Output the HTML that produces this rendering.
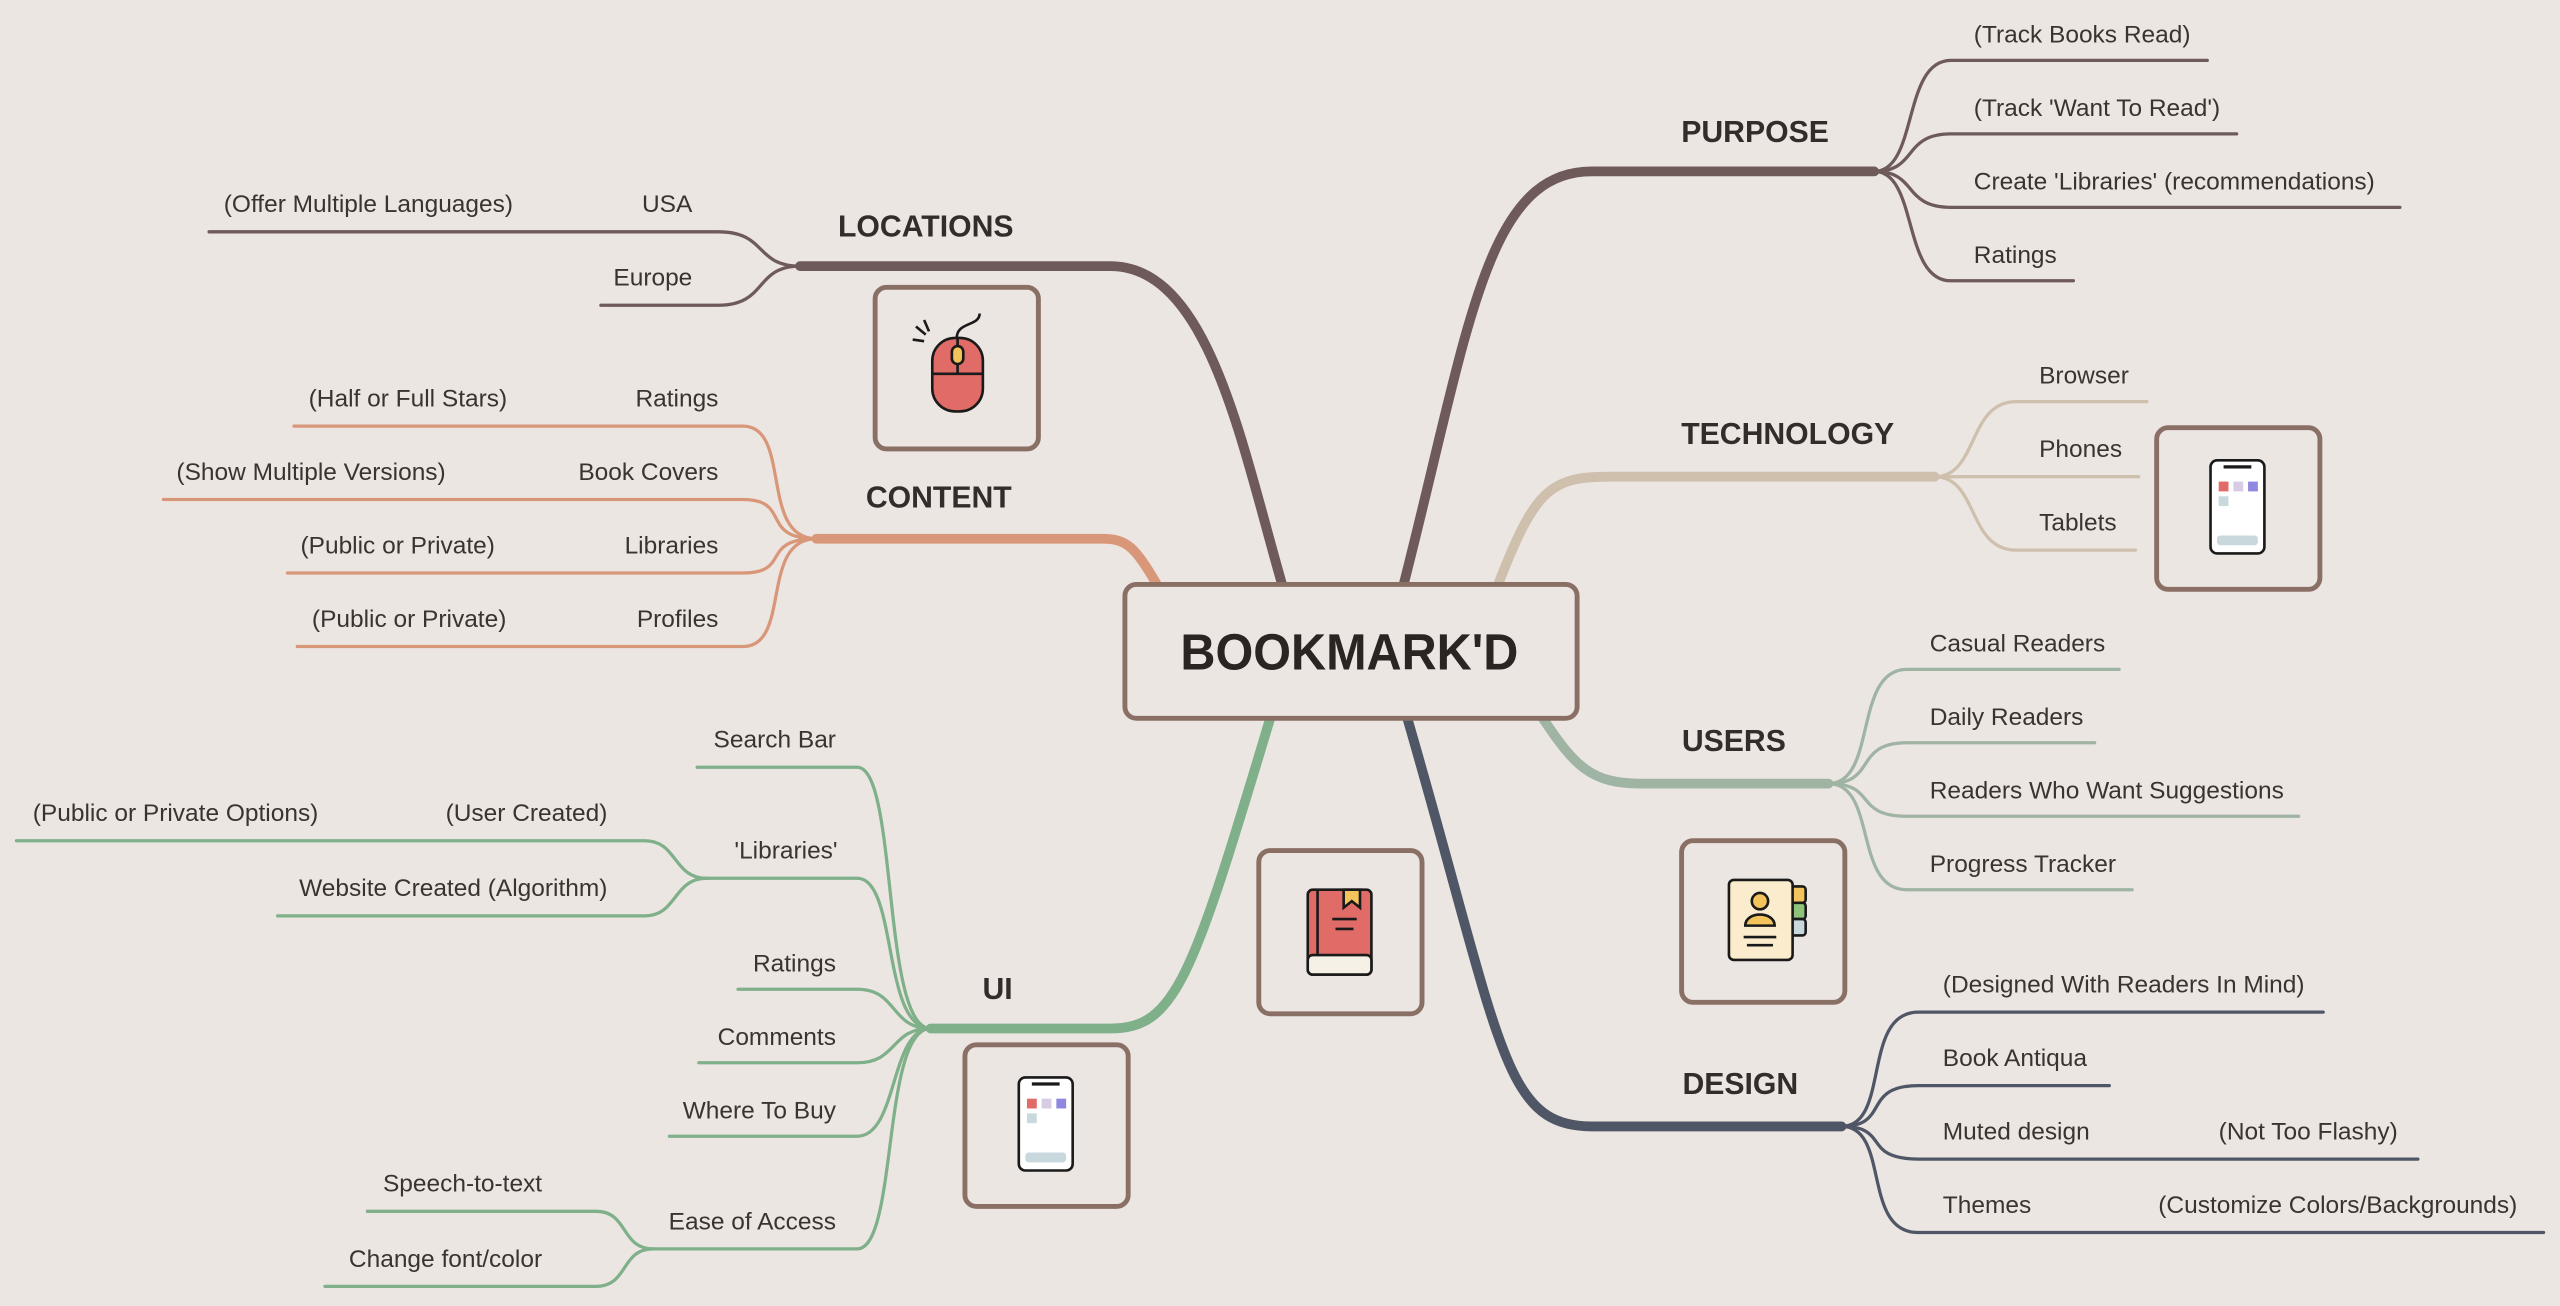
<!DOCTYPE html>
<html><head><meta charset="utf-8"><style>
html,body{margin:0;padding:0;background:#ece6e3;}
svg{display:block}
text{font-family:"Liberation Sans",sans-serif;fill:#3a3330;}
.l{font-size:15px}
.h{font-size:18.5px;font-weight:bold;fill:#332c2a}
.r{text-anchor:end}
</style></head><body>
<svg width="2560" height="1306" viewBox="0 0 1568 800" xmlns="http://www.w3.org/2000/svg">
<rect width="1568" height="800" fill="#ece6e3"/>
<g fill="none" stroke-linecap="round">
<path d="M785 357 C760 270,740 163,680 163 H490" stroke="#6e5a58" stroke-width="6"/>
<path d="M860 357 C900 200,910 105,975 105 H1148" stroke="#6e5a58" stroke-width="6"/>
<path d="M918 357 C940 300,950 292,985 292 H1185" stroke="#cfc0ad" stroke-width="6"/>
<path d="M945 440 C965 470,975 480,1005 480 H1120" stroke="#9fb4a3" stroke-width="6"/>
<path d="M862 440 C920 640,920 690,975 690 H1128" stroke="#4f5666" stroke-width="6"/>
<path d="M778 440 C730 600,720 630,680 630 H570" stroke="#7fb08a" stroke-width="6"/>
<path d="M708 357 C695 335,690 330,675 330 H500" stroke="#d9977a" stroke-width="6"/>
<g stroke="#6e5a58" stroke-width="2">
<path d="M1148 105 C1175 105,1165 37,1195 37 H1352"/>
<path d="M1148 105 C1175 105,1165 82,1195 82 H1370"/>
<path d="M1148 105 C1175 105,1165 127,1195 127 H1470"/>
<path d="M1148 105 C1175 105,1165 172,1195 172 H1270"/>
</g>
<g stroke="#cfc0ad" stroke-width="2">
<path d="M1185 292 C1212 292,1205 246,1235 246 H1315"/>
<path d="M1185 292 H1310"/>
<path d="M1185 292 C1212 292,1205 337,1235 337 H1308"/>
</g>
<g stroke="#9fb4a3" stroke-width="2">
<path d="M1120 480 C1150 480,1135 410,1168 410 H1298"/>
<path d="M1120 480 C1150 480,1135 455,1168 455 H1283"/>
<path d="M1120 480 C1150 480,1135 500,1168 500 H1408"/>
<path d="M1120 480 C1150 480,1135 545,1168 545 H1306"/>
</g>
<g stroke="#4f5666" stroke-width="2">
<path d="M1128 690 C1158 690,1140 620,1175 620 H1423"/>
<path d="M1128 690 C1158 690,1140 665,1175 665 H1292"/>
<path d="M1128 690 C1158 690,1140 710,1175 710 H1481"/>
<path d="M1128 690 C1158 690,1140 755,1175 755 H1558"/>
</g>
<g stroke="#6e5a58" stroke-width="2">
<path d="M490 163 C462 163,470 142,440 142 H128"/>
<path d="M490 163 C462 163,470 187,440 187 H368"/>
</g>
<g stroke="#d9977a" stroke-width="2">
<path d="M500 330 C465 330,485 261,455 261 H180"/>
<path d="M500 330 C465 330,485 306,455 306 H100"/>
<path d="M500 330 C465 330,485 351,455 351 H176"/>
<path d="M500 330 C465 330,485 396,455 396 H182"/>
</g>
<g stroke="#7fb08a" stroke-width="2">
<path d="M570 630 C540 630,550 470,525 470 H427"/>
<path d="M570 630 C540 630,550 538,525 538 H433"/>
<path d="M570 630 C545 630,550 606,525 606 H452"/>
<path d="M570 630 C545 630,550 651,525 651 H428"/>
<path d="M570 630 C545 630,550 696,525 696 H410"/>
<path d="M570 630 C540 630,550 765,525 765 H400"/>
<path d="M433 538 C412 538,415 515,395 515 H10"/>
<path d="M433 538 C412 538,415 561,395 561 H170"/>
<path d="M400 765 C380 765,385 742,365 742 H225"/>
<path d="M400 765 C380 765,385 788,365 788 H199"/>
</g>
</g>
<rect x="689" y="358" width="277" height="82" rx="7" fill="#ece6e3" stroke="#8a6f65" stroke-width="3"/>
<text x="723" y="410" textLength="207" lengthAdjust="spacingAndGlyphs" style="font-size:31px;font-weight:bold;fill:#2a2422">BOOKMARK'D</text>
<text class="h" x="567" y="145" text-anchor="middle">LOCATIONS</text>
<text class="h" x="1075" y="87" text-anchor="middle">PURPOSE</text>
<text class="h" x="1095" y="272" text-anchor="middle">TECHNOLOGY</text>
<text class="h" x="1062" y="460" text-anchor="middle">USERS</text>
<text class="h" x="1066" y="670" text-anchor="middle">DESIGN</text>
<text class="h" x="611" y="612" text-anchor="middle">UI</text>
<text class="h" x="575" y="311" text-anchor="middle">CONTENT</text>
<g class="l">
<text class="l" x="1209" y="26">(Track Books Read)</text>
<text class="l" x="1209" y="71">(Track 'Want To Read')</text>
<text class="l" x="1209" y="116">Create 'Libraries' (recommendations)</text>
<text class="l" x="1209" y="161">Ratings</text>
<text class="l" x="1249" y="235">Browser</text>
<text class="l" x="1249" y="280">Phones</text>
<text class="l" x="1249" y="325">Tablets</text>
<text class="l" x="1182" y="399">Casual Readers</text>
<text class="l" x="1182" y="444">Daily Readers</text>
<text class="l" x="1182" y="489">Readers Who Want Suggestions</text>
<text class="l" x="1182" y="534">Progress Tracker</text>
<text class="l" x="1190" y="608">(Designed With Readers In Mind)</text>
<text class="l" x="1190" y="653">Book Antiqua</text>
<text class="l" x="1190" y="698">Muted design</text>
<text class="l" x="1359" y="698">(Not Too Flashy)</text>
<text class="l" x="1190" y="743">Themes</text>
<text class="l" x="1322" y="743">(Customize Colors/Backgrounds)</text>
<text class="l r" x="424" y="130">USA</text>
<text class="l" x="137" y="130">(Offer Multiple Languages)</text>
<text class="l r" x="424" y="175">Europe</text>
<text class="l r" x="440" y="249">Ratings</text>
<text class="l" x="189" y="249">(Half or Full Stars)</text>
<text class="l r" x="440" y="294">Book Covers</text>
<text class="l" x="108" y="294">(Show Multiple Versions)</text>
<text class="l r" x="440" y="339">Libraries</text>
<text class="l" x="184" y="339">(Public or Private)</text>
<text class="l r" x="440" y="384">Profiles</text>
<text class="l" x="191" y="384">(Public or Private)</text>
<text class="l r" x="512" y="458">Search Bar</text>
<text class="l r" x="513" y="526">'Libraries'</text>
<text class="l r" x="372" y="503">(User Created)</text>
<text class="l" x="20" y="503">(Public or Private Options)</text>
<text class="l r" x="372" y="549">Website Created (Algorithm)</text>
<text class="l r" x="512" y="595">Ratings</text>
<text class="l r" x="512" y="640">Comments</text>
<text class="l r" x="512" y="685">Where To Buy</text>
<text class="l r" x="512" y="753">Ease of Access</text>
<text class="l r" x="332" y="730">Speech-to-text</text>
<text class="l r" x="332" y="776">Change font/color</text>
</g>
<g fill="none" stroke="#8a6f65" stroke-width="3">
<rect x="536" y="176" width="100" height="99" rx="7"/>
<rect x="1321" y="262" width="100" height="99" rx="7"/>
<rect x="771" y="521" width="100" height="100" rx="7"/>
<rect x="1030" y="515" width="100" height="99" rx="7"/>
<rect x="591" y="640" width="100" height="99" rx="7"/>
</g>
<g stroke="#1a1a1a" stroke-width="1.6">
<path d="M586 207 C586 197,600 200,600 192" fill="none"/>
<rect x="571" y="207" width="31" height="45" rx="14" fill="#e06b67"/>
<path d="M571 229 H602 M586.5 207 V229" fill="none"/>
<rect x="583" y="212" width="7" height="11" rx="3.5" fill="#f3c35c"/>
<path d="M561 200 L567 205 M566 196 L569 203 M559 208 L566 209" fill="none"/>
</g>
<g stroke="#1a1a1a" stroke-width="1.6">
<rect x="1354" y="282" width="33" height="57" rx="4" fill="#fff"/>
<rect x="624" y="660" width="33" height="57" rx="4" fill="#fff"/>
</g>
<g stroke="none">
<rect x="1362" y="285" width="17" height="2" fill="#1a1a1a"/>
<rect x="1359" y="295" width="6" height="6" fill="#e06b67"/><rect x="1368" y="295" width="6" height="6" fill="#d7cce4"/><rect x="1377" y="295" width="6" height="6" fill="#8f88e0"/>
<rect x="1359" y="304" width="6" height="6" fill="#c9d8dd"/><rect x="1358" y="328" width="25" height="6" rx="2" fill="#c9d8dd"/>
<rect x="632" y="663" width="17" height="2" fill="#1a1a1a"/>
<rect x="629" y="673" width="6" height="6" fill="#e06b67"/><rect x="638" y="673" width="6" height="6" fill="#d7cce4"/><rect x="647" y="673" width="6" height="6" fill="#8f88e0"/>
<rect x="629" y="682" width="6" height="6" fill="#c9d8dd"/><rect x="628" y="706" width="25" height="6" rx="2" fill="#c9d8dd"/>
</g>
<g stroke="#1a1a1a" stroke-width="1.6">
<rect x="801" y="545" width="39" height="52" rx="3" fill="#e06b67"/>
<rect x="801" y="585" width="39" height="12" rx="3" fill="#f6f1e6"/>
<path d="M807 545 V585" fill="none"/>
<path d="M823 545 V556 L828 552 L833 556 V545 Z" fill="#f3c35c"/>
<path d="M816 563 H831 M818 569 H829" fill="none"/>
</g>
<g stroke="#1a1a1a" stroke-width="1.6">
<rect x="1096" y="543" width="10" height="10" rx="2" fill="#f3c35c"/>
<rect x="1096" y="553" width="10" height="10" rx="2" fill="#8fc27b"/>
<rect x="1096" y="563" width="10" height="10" rx="2" fill="#c9d8dd"/>
<rect x="1059" y="539" width="39" height="49" rx="3" fill="#fbeccd"/>
<circle cx="1078" cy="552" r="5" fill="#f3c35c"/>
<path d="M1069 567 C1069 558,1087 558,1087 567 Z" fill="#f3c35c"/>
<path d="M1068 574 H1088 M1070 579 H1086" fill="none"/>
</g>
</svg>
</body></html>
